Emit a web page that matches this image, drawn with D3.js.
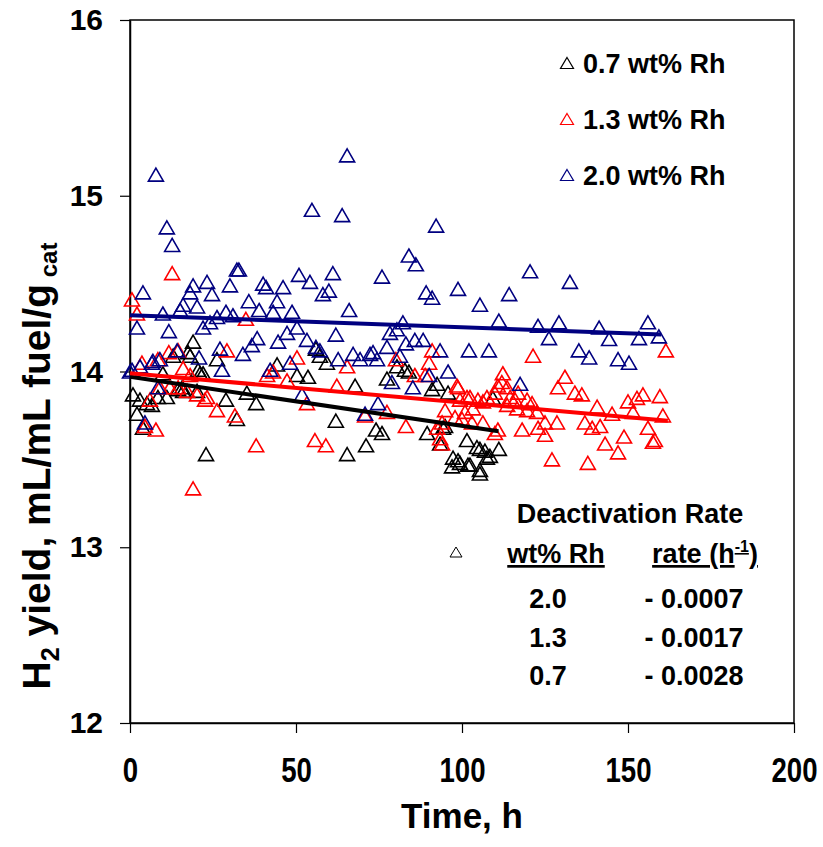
<!DOCTYPE html>
<html>
<head>
<meta charset="utf-8">
<script src="https://cdn.jsdelivr.net/npm/d3@7"></script>
<style>
  body { margin: 0; background: #fff; }
  text { font-family: "Liberation Sans", Arial, sans-serif; font-weight: bold; }
</style>
</head>
<body>
<div id="chart"></div>
<script>
// ---- Data (time h, H2 yield) ----
const rh07 = [
  [0.9,13.87],[3,13.84],[5.1,13.82],[2.1,13.76],[3.9,13.68],[6.6,13.81],[8.4,13.855],[9.9,13.99],
  [11.1,13.855],[13,14.09],[14.5,13.9],[15.7,13.91],[16,13.89],[17.5,14.11],[18.1,14.09],[19,14.17],
  [20.2,13.89],[20.5,14.01],[21.1,13.99],[22,13.99],[22.9,13.53],[26.2,14.07],[28.9,13.84],[32.2,13.73],
  [35.2,13.88],[38,13.82],[44.3,14.04],[50.3,13.98],[53.6,13.97],[56,14.13],[57.2,14.09],[59.3,14.05],
  [62,13.72],[65.4,13.53],[67.8,13.92],[71.1,13.58],[74.1,13.67],[75.9,13.65],[77.4,13.96],[80.4,14.03],
  [82.8,14.01],[84,14.0],[89.5,13.65],[91,13.9],[92.5,13.93],[93.4,13.59],[94.3,13.68],[94.9,13.69],
  [95.8,13.88],[97,13.46],[97.3,13.51],[98.8,13.495],[99.4,13.48],[101.5,13.61],[101.8,13.47],[102.4,13.47],
  [104.5,13.57],[105.4,13.44],[105.4,13.42],[105.4,13.56],[106.9,13.55],[107.5,13.51],[108.4,13.52],
  [109.3,13.85],[111.1,13.56]
];

const rh13 = [
  [0.6,14.41],[2.1,14.33],[3.6,14.05],[4.5,13.69],[6,13.84],[7.8,13.67],[8.4,14.07],[9,13.91],
  [11.7,14.11],[12,13.91],[12.7,14.56],[14.5,14.12],[14.5,13.91],[16,14.02],[17.2,13.89],[18.1,13.98],
  [19,13.335],[20.2,13.87],[22.6,13.84],[23.2,13.855],[26.2,13.78],[29.2,14.12],[31.6,13.75],[34.9,14.3],
  [38,13.58],[41.3,13.98],[43.1,14.0],[47.3,13.95],[50.3,14.08],[53.3,13.82],[55.7,13.61],[59,13.58],
  [62.3,13.92],[65.4,14.03],[70.8,13.75],[77.4,13.77],[80.1,14.07],[83.1,13.69],[85.8,13.98],
  [88.9,13.98],[90.1,14.05],[91,14.12],[92.5,13.68],[93.4,13.62],[94,13.59],[94,13.71],[94.9,13.78],
  [97.9,13.74],[98.5,13.92],[98.8,13.91],[99.4,13.84],[100,13.73],[100.9,13.77],[101.5,13.855],
  [102.4,13.855],[103,13.71],[103.3,13.79],[104.8,13.84],[106.3,13.83],[106.3,13.71],[107.5,13.855],
  [109.9,13.88],[109.9,13.65],[110.8,13.92],[110.8,13.67],[112,13.94],[112.3,13.99],[113.6,13.91],
  [113.6,13.81],[114.5,13.855],[116,13.84],[116.6,13.79],[116.9,13.88],[118.1,13.67],[119.6,13.84],
  [119.6,13.78],[121.1,13.82],[121.4,14.09],[122.6,13.77],[122.9,13.68],[125,13.64],[125,13.71],
  [127.1,13.5],[128.6,13.71],[128.9,13.91],[131,13.97],[134,13.88],[136.1,13.87],[137,13.71],
  [137.9,13.48],[139.2,13.68],[140.7,13.8],[141.6,13.69],[143.1,13.59],[145.2,13.76],[147,13.54],
  [148.8,13.63],[150,13.83],[151.5,13.77],[152.7,13.85],[154.5,13.87],[156,13.68],[157.5,13.6],
  [158.1,13.61],[159.6,13.86],[160.5,13.75],[161.4,14.12]
];

const rh20 = [
  [0,14.0],[0.6,14.01],[2.1,14.25],[3,14.03],[3.9,14.45],[4.5,13.71],[6.6,14.05],[6.9,14.06],[7.8,15.12],
  [8.4,13.91],[9,14.07],[9.9,14.33],[11.1,14.82],[11.7,14.23],[12.7,14.72],[14.2,14.12],[15.1,14.35],
  [16,14.38],[18.1,14.45],[19,14.49],[20.2,14.37],[20.8,14.08],[22,14.25],[23.2,14.51],[24.1,14.28],
  [24.7,14.44],[26.2,14.31],[27.1,14.13],[27.7,14.01],[28.9,14.34],[30.1,14.49],[31,14.32],[32.2,14.58],
  [32.8,14.58],[34,14.1],[35.8,14.4],[36.7,14.15],[38.3,14.19],[38.9,14.35],[40.1,14.5],[41,14.48],
  [42.2,14.01],[43.1,14.34],[44.3,14.4],[44.6,14.17],[46.1,14.48],[47.3,14.22],[48.2,14.05],[48.8,14.34],
  [50.3,14.25],[50.9,14.55],[51.8,13.87],[53.3,14.18],[54.2,14.51],[54.8,14.92],[56,14.14],[57.2,14.12],
  [58.1,14.44],[59.9,14.46],[61.1,14.56],[62,14.21],[62.7,14.07],[63.9,14.89],[65.4,15.23],[66,14.35],
  [67.2,14.1],[69.3,14.07],[70.8,13.76],[72.3,14.1],[73.2,14.11],[74.4,14.07],[74.7,13.82],[75.9,14.54],
  [77.4,14.14],[78.3,14.22],[78.9,13.94],[80.4,14.24],[81.3,14.09],[82.2,14.28],[83.1,14.16],[84,14.66],
  [85.2,13.91],[85.8,14.18],[86.1,14.61],[88.3,14.18],[89.2,14.45],[90.1,13.98],[91,14.42],[92.2,14.83],
  [93.4,14.12],[95.8,14.0],[98.8,14.47],[102.1,14.12],[105.4,14.38],[108.1,14.12],[111.1,14.29],
  [114.2,14.44],[117.5,13.93],[120.5,14.57],[122.9,14.26],[126.2,14.19],[129.2,14.28],[132.5,14.51],
  [135.2,14.12],[138.3,14.08],[141.3,14.25],[144.3,14.185],[147,14.07],[150.3,14.05],[153.3,14.19],
  [156,14.28],[159.3,14.2]
];

// linear fits: [start, end]
const fit07 = [[0,13.97],[111,13.66]];
const fit13 = [[0,13.99],[162,13.72]];
const fit20 = [[0,14.32],[160,14.21]];

const seriesNames = ["0.7 wt% Rh", "1.3 wt% Rh", "2.0 wt% Rh"];
const seriesColors = ["#000000", "#ff0000", "#000080"];

const xTicks = [0, 50, 100, 150, 200];
const yTicks = [12, 13, 14, 15, 16];

const tableHead = ["wt% Rh", "rate (h"];
const tableRh = ["2.0", "1.3", "0.7"];
const tableRate = ["- 0.0007", "- 0.0017", "- 0.0028"];

// ---- Setup ----
const W = 823, H = 847;
const svg = d3.select("#chart").append("svg")
    .attr("width", W)
    .attr("height", H);

const x = d3.scaleLinear().domain([0, 200]).range([130, 794]);
const y = d3.scaleLinear().domain([12, 16]).range([723, 20]);

const tri = "M0,-6.5L7.5,6.5L-7.5,6.5Z";

// frame (top + right)
svg.append("rect")
    .attr("x", x(0)).attr("y", y(16))
    .attr("width", x(200) - x(0)).attr("height", y(12) - y(16))
    .attr("fill", "none").attr("stroke", "#000").attr("stroke-width", 1.5);

// ---- Axes ----
const xAxis = svg.append("g")
    .attr("transform", `translate(0, ${y(12)})`)
    .call(d3.axisBottom(x).tickValues(xTicks).tickSize(10).tickSizeOuter(0).tickPadding(20));
xAxis.select(".domain").attr("stroke-width", 1.5);
xAxis.selectAll(".tick line").attr("stroke-width", 1.2);
xAxis.selectAll(".tick text")
    .style("font-size", "30px")
    .attr("fill", "#000")
    .attr("transform", "scale(0.92,1.15)")
    .attr("dy", "0.71em");

const yAxis = svg.append("g")
    .attr("transform", `translate(${x(0)}, 0)`)
    .call(d3.axisLeft(y).tickValues(yTicks).tickFormat(d3.format("d"))
        .tickSize(10).tickSizeOuter(0).tickPadding(17));
yAxis.select(".domain").attr("stroke-width", 1.5);
yAxis.selectAll(".tick line").attr("stroke-width", 1.2);
yAxis.selectAll(".tick text")
    .style("font-size", "30px")
    .attr("fill", "#000");

// ---- Points ----
const allSeries = [rh07, rh13, rh20];
allSeries.forEach((data, i) => {
    svg.append("g").selectAll("path")
        .data(data)
        .enter()
        .append("path")
        .attr("d", tri)
        .attr("transform", d => `translate(${x(d[0])}, ${y(d[1])})`)
        .attr("fill", "none")
        .attr("stroke", seriesColors[i])
        .attr("stroke-width", 1.6);
});

// ---- Fit lines ----
const line = d3.line().x(d => x(d[0])).y(d => y(d[1]));
[fit07, fit13, fit20].forEach((f, i) => {
    svg.append("path")
        .attr("d", line(f))
        .attr("fill", "none")
        .attr("stroke", seriesColors[i])
        .attr("stroke-width", 4);
});

// ---- Legend ----
const legend = svg.append("g").attr("transform", "translate(567, 63)");
seriesNames.forEach((name, i) => {
    const row = legend.append("g").attr("transform", `translate(0, ${i * 56})`);
    row.append("path")
        .attr("d", "M0,-5.5L6.5,5.5L-6.5,5.5Z")
        .attr("fill", "none")
        .attr("stroke", seriesColors[i])
        .attr("stroke-width", 1.2);
    row.append("text")
        .attr("x", 16)
        .attr("y", 10)
        .style("font-size", "27px")
        .text(name);
});

// ---- Deactivation table ----
const table = svg.append("g");
table.append("text")
    .attr("x", 630).attr("y", 523)
    .attr("text-anchor", "middle")
    .style("font-size", "27px")
    .text("Deactivation Rate");

table.append("path")
    .attr("d", "M0,-5L6,5L-6,5Z")
    .attr("transform", "translate(456, 552)")
    .attr("fill", "none")
    .attr("stroke", "#000")
    .attr("stroke-width", 1);

const colX = [556, 705];
table.append("text")
    .attr("x", colX[0]).attr("y", 563)
    .attr("text-anchor", "middle")
    .style("font-size", "27px")
    .attr("text-decoration", "underline")
    .text(tableHead[0]);

const head2 = table.append("text")
    .attr("x", colX[1]).attr("y", 563)
    .attr("text-anchor", "middle")
    .style("font-size", "27px")
    .attr("text-decoration", "underline");
head2.append("tspan").text(tableHead[1]);
head2.append("tspan").attr("dy", -11).style("font-size", "16px").text("-1");
head2.append("tspan").attr("dy", 11).text(")");

tableRh.forEach((v, i) => {
    table.append("text")
        .attr("x", colX[0] - 8).attr("y", 608 + i * 38.5)
        .attr("text-anchor", "middle")
        .style("font-size", "27px")
        .text(v);
    table.append("text")
        .attr("x", colX[1] - 11).attr("y", 608 + i * 38.5)
        .attr("text-anchor", "middle")
        .style("font-size", "27px")
        .text(tableRate[i]);
});

// ---- Titles ----
svg.append("text")
    .attr("x", 462).attr("y", 828)
    .attr("text-anchor", "middle")
    .style("font-size", "35px")
    .text("Time, h");

const yTitle = svg.append("text")
    .attr("transform", "translate(50, 466) rotate(-90)")
    .attr("text-anchor", "middle")
    .style("font-size", "39px");
yTitle.append("tspan").text("H");
yTitle.append("tspan").attr("dy", 9).style("font-size", "25px").text("2");
yTitle.append("tspan").attr("dy", -9).text(" yield, mL/mL fuel/g");
yTitle.append("tspan").attr("dy", 7).style("font-size", "24px").text(" cat");
</script>
</body>
</html>
